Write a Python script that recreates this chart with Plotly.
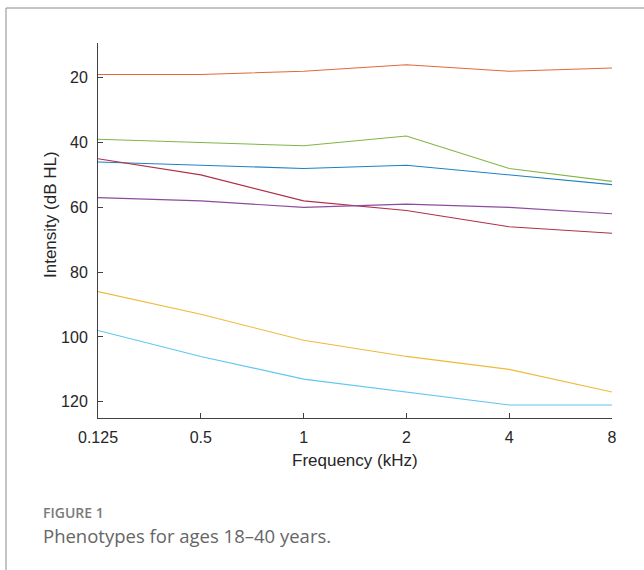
import plotly.graph_objects as go

freq_labels = ["0.125", "0.5", "1", "2", "4", "8"]
orange = [19, 19, 18, 16, 18, 17]
green = [39, 40, 41, 38, 48, 52]
blue = [46, 47, 48, 47, 50, 53]
darkred = [45, 50, 58, 61, 66, 68]
purple = [57, 58, 60, 59, 60, 62]
yellow = [86, 93, 101, 106, 110, 117]
lightblue = [98, 106, 113, 117, 121, 121]

series = [
    (orange, "#E0683C"),
    (green, "#82B545"),
    (blue, "#1F80C4"),
    (darkred, "#B0304A"),
    (purple, "#8E4A9C"),
    (yellow, "#EFBA3A"),
    (lightblue, "#62C6F0"),
]

W, H = 644, 570
L, R, T, B = 98, 612, 43, 418
pw, ph = R - L, B - T

def px(x):
    return (x - L) / pw

def py(y):
    return (B - y) / ph

xs = list(range(len(freq_labels)))
fig = go.Figure()
for vals, col in series:
    fig.add_trace(go.Scatter(x=xs, y=vals, mode="lines",
                             line=dict(color=col, width=1.1),
                             showlegend=False, hoverinfo="skip"))

axcol = "#404040"
tickfont = dict(family="Liberation Sans, Arial, sans-serif", size=16, color="#262626")
fig.update_layout(
    width=W, height=H,
    margin=dict(l=L, r=W - R, t=T, b=H - B),
    paper_bgcolor="white", plot_bgcolor="white",
    font=dict(family="Liberation Sans, Arial, sans-serif", size=16, color="#262626"),
    xaxis=dict(range=[0, 5], tickmode="array", tickvals=xs, ticktext=freq_labels,
               showgrid=False, zeroline=False, showline=True, linecolor=axcol,
               linewidth=1, ticks="inside", ticklen=5, tickcolor=axcol,
               tickfont=tickfont, ticklabelstandoff=5),
    yaxis=dict(range=[125, 9.3], tickvals=[20, 40, 60, 80, 100, 120],
               showgrid=False, zeroline=False, showline=True, linecolor=axcol,
               linewidth=1, ticks="inside", ticklen=5, tickcolor=axcol,
               tickfont=tickfont, ticklabelstandoff=6),
)

# frame lines
fig.add_shape(type="line", xref="paper", yref="paper",
              x0=px(6), x1=px(646), y0=py(8), y1=py(8),
              line=dict(color="#8a8a8a", width=1))
fig.add_shape(type="line", xref="paper", yref="paper",
              x0=px(6), x1=px(6), y0=py(8), y1=py(572),
              line=dict(color="#8a8a8a", width=1))

fig.add_annotation(text="Frequency (kHz)", xref="paper", yref="paper",
                   x=px(355), y=py(460), showarrow=False,
                   font=dict(family="Liberation Sans, Arial, sans-serif", size=17, color="#262626"),
                   xanchor="center", yanchor="middle")
fig.add_annotation(text="Intensity (dB HL)", xref="paper", yref="paper",
                   x=px(50), y=py(215), showarrow=False, textangle=-90,
                   font=dict(family="Liberation Sans, Arial, sans-serif", size=17, color="#262626"),
                   xanchor="center", yanchor="middle")
fig.add_annotation(text="FIGURE 1", xref="paper", yref="paper",
                   x=px(41), y=py(512), showarrow=False,
                   font=dict(family="Open Sans, sans-serif", size=14, color="#7a7a7a",
                             weight=600),
                   xanchor="left", yanchor="middle")
fig.add_annotation(text="Phenotypes for ages 18\u201340 years.", xref="paper", yref="paper",
                   x=px(41), y=py(535), showarrow=False,
                   font=dict(family="Open Sans, sans-serif", size=18.5, color="#666666"),
                   xanchor="left", yanchor="middle")

fig.write_html("out.html", config={"displayModeBar": False},
               post_script="document.body.style.margin='0';")
